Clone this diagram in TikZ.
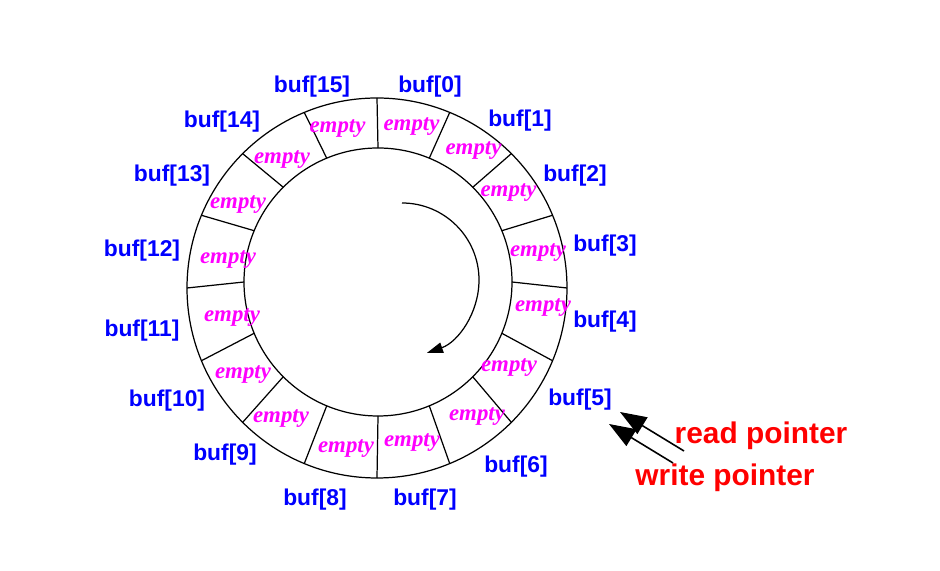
\documentclass[tikz,border=0pt]{standalone}
\usepackage{fontspec}
\usepackage{tikz}
\usetikzlibrary{calc}
\usetikzlibrary{arrows.meta}
\newfontfamily\bufsans{Liberation Sans}
\newfontfamily\cellserif{Liberation Serif}
\definecolor{bufblue}{RGB}{0,0,255}
\definecolor{cellmagenta}{RGB}{255,0,255}
\definecolor{pointerred}{RGB}{255,0,0}
\tikzset{
	bufname/.style={inner sep=0pt, yshift=-1pt, text=bufblue, font=\bufsans\bfseries\fontsize{13}{15}\selectfont},
	emptycell/.style={inner sep=0pt, yshift=-1pt, text=cellmagenta, font=\cellserif\bfseries\itshape\fontsize{13}{15}\selectfont},
	pointername/.style={inner sep=0pt, yshift=-1pt, text=pointerred, font=\bufsans\bfseries\fontsize{17}{20}\selectfont},
	pointerarrow/.style={line width=0.9pt, -{Triangle[length=15pt,width=11pt]}}
}
\newcommand{\divider}[1] % angle in degrees
{
	% slot boundary from inner ring to outer ring
	\draw ($(inner)+(#1:134)$) -- ($(outer)+(#1:190)$);
}
\newcommand{\slot}[5] % index, name x, name y, text x, text y
{
	\node[bufname] (buf#1) at (#2,#3) {buf[#1]};
	\node[emptycell] (empty#1) at (#4,#5) {empty};
}
\begin{document}
\begin{tikzpicture}[x=0.02cm, y=0.02cm, line width=0.7pt]
	\useasboundingbox (0,0) rectangle (940,571);
	% ring, 16 slots
	\coordinate (outer) at (377,283);
	\coordinate (inner) at (378,289);
	\draw (outer) circle (190);
	\draw (inner) circle (134);
	\divider{90}
	\divider{67.5}
	\divider{45}
	\divider{22.5}
	\divider{0}
	\divider{-22.5}
	\divider{-45}
	\divider{-67.5}
	\divider{-90}
	\divider{-112.5}
	\divider{-135}
	\divider{-157.5}
	\divider{180}
	\divider{157.5}
	\divider{135}
	\divider{112.5}
	% slot names and contents
	\slot{0}{430}{486}{411.5}{446}
	\slot{1}{520}{452}{473.5}{422}
	\slot{2}{575}{397}{508.5}{380}
	\slot{3}{605}{327}{538}{320}
	\slot{4}{605}{251}{543}{265}
	\slot{5}{580}{173}{509}{205}
	\slot{6}{516}{106}{477}{156}
	\slot{7}{425}{73}{412}{130}
	\slot{8}{315}{73}{346}{124}
	\slot{9}{225}{118}{281}{154}
	\slot{10}{167}{172}{243}{198}
	\slot{11}{142}{242}{232}{255}
	\slot{12}{142}{322}{228}{313}
	\slot{13}{172}{397}{238}{368}
	\slot{14}{222}{451}{282}{413}
	\slot{15}{312}{486}{337.5}{444}
	% direction of travel
	\coordinate (spin) at (402,291);
	\draw[-{Triangle[length=9pt,width=6pt]}] ($(spin)+(90:77)$) arc[start angle=90, end angle=-71, radius=77];
	% pointers
	\node[pointername] (read) at (761,137) {read pointer};
	\node[pointername] (write) at (725,95) {write pointer};
	\coordinate (read tail) at (684,120);
	\coordinate (read tip) at (620,159);
	\coordinate (write tail) at (673,108);
	\coordinate (write tip) at (609,147);
	\draw[pointerarrow] (read tail) -- (read tip);
	\draw[pointerarrow] (write tail) -- (write tip);
\end{tikzpicture}
\end{document}
